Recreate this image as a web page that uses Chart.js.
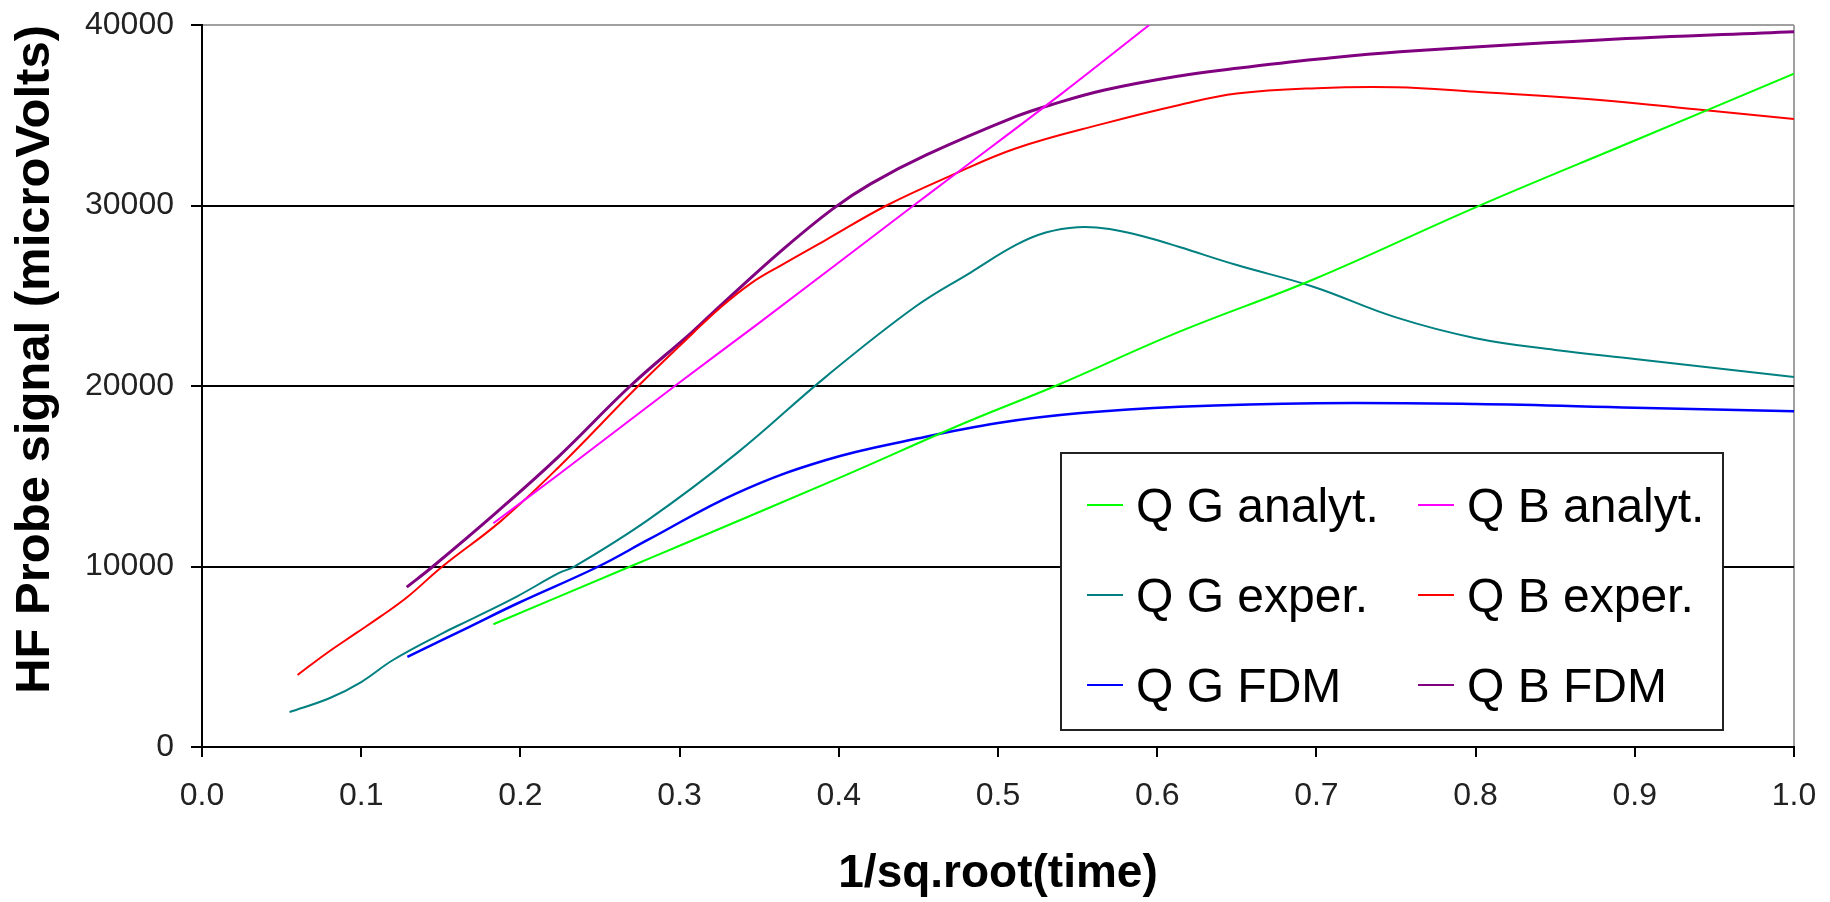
<!DOCTYPE html>
<html>
<head>
<meta charset="utf-8">
<script src="https://cdn.jsdelivr.net/npm/chart.js@4.4.1/dist/chart.umd.min.js"></script>
<style>
    html, body { margin: 0; padding: 0; background: #fff; }
    canvas { display: block; }
</style>
</head>
<body>
<canvas id="probeChart" width="1830" height="902"></canvas>
<script>
// values
const qgAnalytX = [0.183, 0.269, 0.3, 0.4, 0.479, 0.536, 0.614, 0.698, 0.8, 0.9, 1.0];
const qgAnalytY = [6800, 10000, 11150, 14900, 17950, 20000, 23010, 25900, 29900, 33600, 37300];

const qbAnalytX = [0.183, 0.224, 0.297, 0.35, 0.447, 0.468, 0.54, 0.595];
const qbAnalytY = [12400, 15100, 20000, 23500, 30000, 31400, 36200, 40000];

const qgExperX = [0.055, 0.08, 0.1, 0.12, 0.151, 0.168, 0.198, 0.224, 0.234, 0.28, 0.336, 0.392, 0.448, 0.483, 0.511, 0.53, 0.55, 0.57, 0.595, 0.614, 0.65, 0.698, 0.75, 0.8, 0.85, 0.9, 0.95, 1.0];
const qgExperY = [1940, 2700, 3600, 4820, 6300, 7030, 8350, 9630, 10000, 12570, 16280, 20520, 24390, 26300, 27800, 28500, 28800, 28700, 28200, 27700, 26700, 25500, 23800, 22650, 22000, 21500, 21000, 20500];

const qbExperX = [0.06, 0.0785, 0.097, 0.112, 0.129, 0.151, 0.1875, 0.224, 0.274, 0.308, 0.325, 0.345, 0.364, 0.392, 0.43, 0.469, 0.511, 0.567, 0.614, 0.65, 0.7, 0.75, 0.8, 0.878, 0.943, 1.0];
const qbExperY = [3990, 5210, 6320, 7220, 8310, 10000, 12500, 15500, 20000, 22900, 24300, 25700, 26700, 28100, 30000, 31600, 33160, 34550, 35570, 36200, 36500, 36550, 36300, 35850, 35290, 34790];

const qgFdmX = [0.129, 0.151, 0.168, 0.198, 0.249, 0.28, 0.336, 0.392, 0.45, 0.5, 0.552, 0.614, 0.7, 0.8, 0.9, 1.0];
const qgFdmY = [4990, 5930, 6660, 7950, 10000, 11470, 14070, 15900, 17100, 17950, 18500, 18850, 19050, 19000, 18800, 18600];

const qbFdmX = [0.1286, 0.145, 0.185, 0.224, 0.269, 0.308, 0.325, 0.364, 0.396, 0.42, 0.455, 0.511, 0.533, 0.567, 0.614, 0.65, 0.7, 0.7525, 0.878, 1.0];
const qbFdmY = [8860, 10000, 13000, 16090, 20000, 23000, 24400, 27500, 29800, 31200, 32800, 34920, 35570, 36400, 37180, 37600, 38100, 38520, 39170, 39630];

const seriesLabels = ['Q G analyt.', 'Q B analyt.', 'Q G exper.', 'Q B exper.', 'Q G FDM', 'Q B FDM'];
const seriesColors = ['#00ff00', '#ff00ff', '#008080', '#ff0000', '#0000ff', '#800080'];
const seriesWidths = [2, 2, 2, 2, 2.5, 3];

const yTicks = [0, 10000, 20000, 30000, 40000];

const FONT = '"Liberation Sans", Arial, sans-serif';

const toPoints = (xs, ys) => xs.map((x, i) => ({ x: x, y: ys[i] }));
const allSeries = [
    toPoints(qgAnalytX, qgAnalytY),
    toPoints(qbAnalytX, qbAnalytY),
    toPoints(qgExperX, qgExperY),
    toPoints(qbExperX, qbExperY),
    toPoints(qgFdmX, qgFdmY),
    toPoints(qbFdmX, qbFdmY)
];

// boxed two-column legend drawn inside the plot, like the original
const boxLegend = {
    id: 'boxLegend',
    afterDraw(chart) {
        const { ctx, chartArea } = chart;
        const left = chartArea.left + 859;
        const top = chartArea.top + 428;
        const w = 662, h = 277;
        ctx.save();
        ctx.fillStyle = '#fff';
        ctx.fillRect(left, top, w, h);
        ctx.strokeStyle = '#222';
        ctx.lineWidth = 2;
        ctx.strokeRect(left, top, w, h);
        ctx.font = '48px ' + FONT;
        ctx.textBaseline = 'alphabetic';
        chart.data.datasets.forEach((ds, i) => {
            const col = i % 2;
            const row = Math.floor(i / 2);
            const x0 = left + 26 + col * 331;
            const yc = top + 52 + row * 90;
            ctx.strokeStyle = ds.borderColor;
            ctx.lineWidth = 2;
            ctx.beginPath();
            ctx.moveTo(x0, yc);
            ctx.lineTo(x0 + 36, yc);
            ctx.stroke();
            ctx.fillStyle = '#000';
            ctx.fillText(ds.label, x0 + 49, yc + 17);
        });
        ctx.restore();
    }
};

const isTop = v => Math.abs(v - 40000) < 1e-6;
const isRight = v => Math.abs(v - 1) < 1e-6;

new Chart(document.getElementById('probeChart'), {
    type: 'line',
    data: {
        datasets: allSeries.map((pts, i) => ({
            label: seriesLabels[i],
            data: pts,
            borderColor: seriesColors[i],
            backgroundColor: seriesColors[i],
            borderWidth: seriesWidths[i],
            pointRadius: 0,
            fill: false,
            tension: 0.4
        }))
    },
    options: {
        responsive: false,
        devicePixelRatio: 1,
        animation: false,
        layout: { padding: { top: 25, right: 36, left: 0, bottom: 0 } },
        plugins: {
            legend: { display: false },
            tooltip: { enabled: false }
        },
        scales: {
            x: {
                type: 'linear',
                min: 0,
                max: 1,
                afterFit: s => {
                    s.height = 155;
                    s.paddingLeft = 0;
                    s.paddingRight = 0;
                },
                ticks: {
                    stepSize: 0.1,
                    color: '#222',
                    font: { family: FONT, size: 32 },
                    padding: 20,
                    maxRotation: 0,
                    callback: v => v.toFixed(1)
                },
                grid: {
                    drawOnChartArea: true,
                    color: ctx => (ctx.tick && isRight(ctx.tick.value)) ? '#a0a0a0' : 'rgba(0,0,0,0)',
                    lineWidth: 2,
                    tickColor: '#000',
                    tickLength: 10,
                    tickWidth: 2
                },
                border: { color: '#000', width: 2 },
                title: {
                    display: true,
                    text: '1/sq.root(time)',
                    color: '#000',
                    font: { family: FONT, size: 46, weight: 'bold' },
                    padding: { top: 0, bottom: 0 }
                }
            },
            y: {
                min: 0,
                max: 40000,
                afterFit: s => {
                    s.width = 202;
                    s.paddingTop = 0;
                    s.paddingBottom = 0;
                },
                afterBuildTicks: s => { s.ticks = yTicks.map(v => ({ value: v })); },
                ticks: {
                    color: '#222',
                    font: { family: FONT, size: 32 },
                    padding: 17,
                    callback: v => String(v)
                },
                grid: {
                    color: ctx => (ctx.tick && isTop(ctx.tick.value)) ? '#a0a0a0' : '#000',
                    lineWidth: 2,
                    tickColor: '#000',
                    tickLength: 11,
                    tickWidth: 2
                },
                border: { color: '#000', width: 2 },
                title: {
                    display: true,
                    text: 'HF Probe signal (microVolts)',
                    align: 'end',
                    color: '#000',
                    font: { family: FONT, size: 49, weight: 'bold' },
                    padding: { top: 6, bottom: 0 }
                }
            }
        }
    },
    plugins: [boxLegend]
});
</script>
</body>
</html>
